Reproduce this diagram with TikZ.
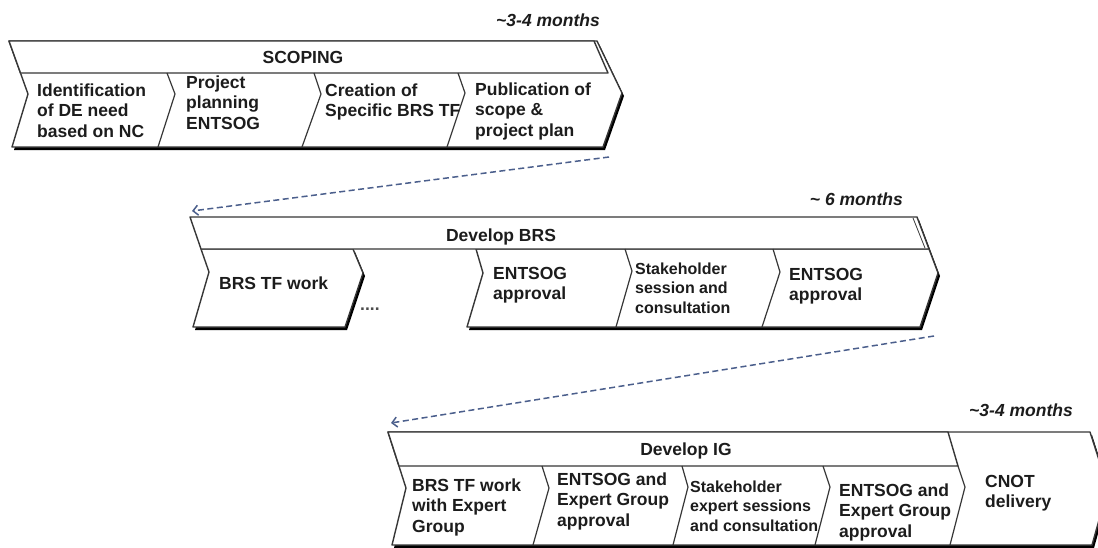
\documentclass[tikz,border=0pt]{standalone}
\usepackage{fontspec}
\setmainfont{Liberation Sans}
\usetikzlibrary{arrows.meta}
\definecolor{ln}{RGB}{55,55,55}
\definecolor{txt}{RGB}{28,28,28}
\definecolor{arrc}{RGB}{75,95,140}
\begin{document}
\begin{tikzpicture}[x=1pt,y=-1pt,
  box/.style={fill=white,draw=ln,line width=1.4pt,line join=round},
  shd/.style={fill=black,shift={(2,3)}},
  dv/.style={draw=ln,line width=1.2pt,line join=round},
  lbl/.style={font=\bfseries\fontsize{17.5}{20.5}\selectfont,align=left,inner sep=0pt,anchor=north west,text=txt,yshift=14.35pt},
  lbls/.style={font=\bfseries\fontsize{16}{19.5}\selectfont,align=left,inner sep=0pt,anchor=north west,text=txt,yshift=13.65pt},
  hdr/.style={font=\bfseries\fontsize{17.5}{20.5}\selectfont,inner sep=0pt,anchor=base,text=txt},
  dur/.style={font=\bfseries\itshape\fontsize{17.5}{20.5}\selectfont,inner sep=0pt,anchor=base east,text=txt},
  arr/.style={draw=arrc,line width=1.5pt,dash pattern=on 6pt off 3.5pt,-{Straight Barb[length=5pt,width=10pt]}}
]
\useasboundingbox (0,0) rectangle (1098,547);
\fill[white] (0,0) rectangle (1098,547);

% ---------- SCOPING ----------
\fill[shd] (9,41) -- (28,94) -- (12,147) -- (603,147) -- (622,93) -- (597,41) -- cycle;
\draw[box] (9,41) -- (28,94) -- (12,147) -- (603,147) -- (622,93) -- (597,41) -- cycle;
\draw[box] (9,41) -- (20.5,73) -- (608,73) -- (594,41) -- cycle;
\draw[dv] (167,73) -- (175,94) -- (158,147);
\draw[dv] (314,73) -- (321,94) -- (302,147);
\draw[dv] (458,73) -- (465,93) -- (447,147);
\node[hdr] (scoping) at (303,63) {SCOPING};
\node[dur] (d1) at (600,26) {\textasciitilde3-4 months};
\node[lbl] (s1) at (37,96) {\strut Identification\\of DE need\\based on NC};
\node[lbl] (s2) at (186,88) {\strut Project\\planning\\ENTSOG};
\node[lbl] (s3) at (325,96) {\strut Creation of\\Specific BRS TF};
\node[lbl] (s4) at (475,95) {\strut Publication of\\scope \&\\project plan};

% ---------- DEVELOP BRS ----------
\fill[shd] (201,249) -- (209,272) -- (193,327) -- (345,327) -- (363,273) -- (353,249) -- cycle;
\fill[shd] (476,249) -- (483,273) -- (467,327) -- (920,327) -- (938,273) -- (917,217) -- (700,217) -- (700,249) -- cycle;
\draw[box] (201,249) -- (209,272) -- (193,327) -- (345,327) -- (363,273) -- (353,249) -- cycle;
\draw[box] (476,249) -- (483,273) -- (467,327) -- (920,327) -- (938,273) -- (929,249) -- cycle;
\draw[box] (190,217) -- (201,249) -- (929,249) -- (917,217) -- cycle;
\draw[draw=ln,line width=0.8pt] (913,218) -- (925,248);
\draw[dv] (625,249) -- (632,271) -- (616,327);
\draw[dv] (773,249) -- (780,272) -- (762,327);
\node[hdr] (brs) at (501,241) {Develop BRS};
\node[dur] (d2) at (903,205) {\textasciitilde{} 6 months};
\node[lbl] (b1) at (219,289) {\strut BRS TF work};
\node[font=\bfseries\fontsize{17.5}{20.5}\selectfont,text=gray!60!black,inner sep=0pt,anchor=base west] (dots) at (360,310) {....};
\node[lbl] (b2) at (493,279) {\strut ENTSOG\\approval};
\node[lbls] (b3) at (635,274) {\strut Stakeholder\\session and\\consultation};
\node[lbl] (b4) at (789,280) {\strut ENTSOG\\approval};

% ---------- DEVELOP IG ----------
\fill[shd] (388,432) -- (406,488) -- (392,545) -- (1092,545) -- (1108,488) -- (1090,432) -- cycle;
\draw[box] (388,432) -- (406,488) -- (392,545) -- (1092,545) -- (1108,488) -- (1090,432) -- cycle;
\draw[box] (388,432) -- (399,466) -- (958,466) -- (948,432) -- cycle;
\draw[dv] (958,466) -- (965,487) -- (950,545);
\draw[dv] (542,466) -- (549,488) -- (533,545);
\draw[dv] (682,466) -- (688,487) -- (673,545);
\draw[dv] (823,466) -- (830,487) -- (815,545);
\node[hdr] (ig) at (686,455) {Develop IG};
\node[dur] (d3) at (1073,416) {\textasciitilde3-4 months};
\node[lbl] (i1) at (412,491) {\strut BRS TF work\\with Expert\\Group};
\node[lbl] (i2) at (557,485) {\strut ENTSOG and\\Expert Group\\approval};
\node[lbls] (i3) at (690,492) {\strut Stakeholder\\expert sessions\\and consultation};
\node[lbl] (i4) at (839,496) {\strut ENTSOG and\\Expert Group\\approval};
\node[lbl] (i5) at (985,487) {\strut CNOT\\delivery};

% ---------- arrows ----------
\coordinate (a1s) at (609,157);
\coordinate (a1e) at (192,211);
\coordinate (a2s) at (934,336);
\coordinate (a2e) at (391,423);
\draw[arr] (a1s) -- (a1e);
\draw[arr] (a2s) -- (a2e);
\end{tikzpicture}
\end{document}
